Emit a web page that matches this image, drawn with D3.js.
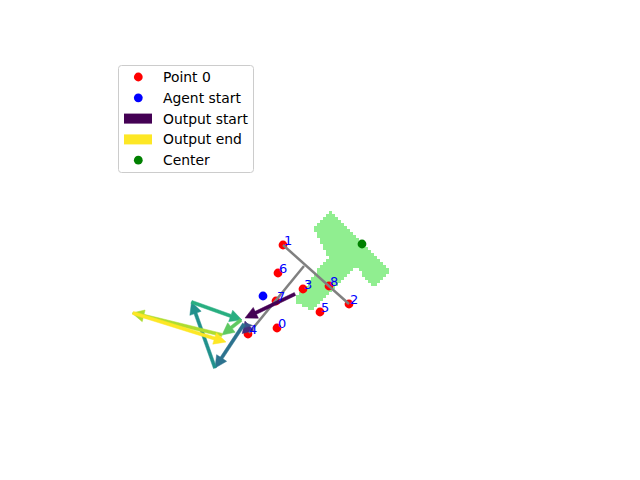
<!DOCTYPE html>
<html>
<head>
<meta charset="utf-8">
<script src="https://cdn.jsdelivr.net/npm/d3@7"></script>
<style>
  html, body { margin: 0; padding: 0; background: #fff; }
  svg { display: block; font-family: "DejaVu Sans", sans-serif; }
</style>
</head>
<body>
<svg id="chart" width="640" height="480"></svg>
<script>
// ---------- data ----------
const pointLabels = ["0", "1", "2", "3", "4", "5", "6", "7", "8"];
const pointX = [4.925, 5.075, 6.725, 5.575, 4.2, 6.0, 4.95, 4.9, 6.225];
const pointY = [2.475, 4.55, 3.075, 3.45, 2.325, 2.875, 3.85, 3.15, 3.525];

const agentStart = [4.575, 3.275];
const centerPoint = [7.05, 4.575];

// T-shaped region (polygon outline, shown as raster cells)
const tShapeX = [5.85, 6.25, 7.775, 7.35, 6.875, 5.775, 5.35, 6.2];
const tShapeY = [4.975, 5.4, 3.9, 3.475, 4.025, 2.9, 3.15, 4.25];
const cellSize = 0.075;

// gray skeleton segments
const segX0 = [5.075, 5.6];
const segY0 = [4.55, 4.025];
const segX1 = [6.725, 4.225];
const segY1 = [3.075, 2.35];

// output arrows (in order, coloured with viridis)
const arrowX0 = [5.375, 4.2, 4.175, 4.1, 3.375, 2.7875, 4.025, 3.55, 1.325];
const arrowY0 = [3.325, 2.375, 2.5, 2.575, 1.475, 3.125, 2.675, 2.3, 2.85];
const arrowX1 = [4.125, 4.125, 4.15, 3.375, 2.7875, 4.05, 3.55, 1.3, 3.65];
const arrowY1 = [2.725, 2.65, 2.6, 1.475, 3.125, 2.675, 2.3, 2.85, 2.125];

const legendLabels = ["Point 0", "Agent start", "Output start", "Output end", "Center"];

// ---------- layout ----------
const svg = d3.select("#chart");
const x = d3.scaleLinear().domain([0, 12.4]).range([80, 576]);
const y = d3.scaleLinear().domain([0, 9.225]).range([427, 58]);
const color = d3.scaleSequential(d3.interpolateViridis).domain([0, arrowX0.length - 1]);

// T-shape raster
const poly = tShapeX.map((v, i) => [v, tShapeY[i]]);
const xs = d3.extent(tShapeX), ys = d3.extent(tShapeY);
const cells = [];
for (let cx = Math.floor(xs[0] / cellSize); cx * cellSize <= xs[1]; cx++) {
  for (let cy = Math.floor(ys[0] / cellSize); cy * cellSize <= ys[1]; cy++) {
    const mx = (cx + 0.5) * cellSize, my = (cy + 0.5) * cellSize;
    if (d3.polygonContains(poly, [mx, my])) cells.push([cx * cellSize, cy * cellSize]);
  }
}
svg.append("g").attr("shape-rendering", "crispEdges")
  .selectAll("rect").data(cells).join("rect")
  .attr("x", d => x(d[0]))
  .attr("y", d => y(d[1] + cellSize))
  .attr("width", x(cellSize) - x(0) + 0.3)
  .attr("height", y(0) - y(cellSize) + 0.3)
  .attr("fill", "#90ee90");

// red points
svg.append("g").selectAll("circle").data(pointX).join("circle")
  .attr("cx", (d) => x(d))
  .attr("cy", (d, i) => y(pointY[i]))
  .attr("r", 4.4)
  .attr("fill", "#ff0000");

// gray skeleton
svg.append("g").selectAll("line").data(segX0).join("line")
  .attr("x1", d => x(d)).attr("y1", (d, i) => y(segY0[i]))
  .attr("x2", (d, i) => x(segX1[i])).attr("y2", (d, i) => y(segY1[i]))
  .attr("stroke", "#808080").attr("stroke-width", 2.5);

// arrows
const headLen = 12, headHalf = 6, shaft = 1.6;
const ag = svg.append("g");
arrowX0.forEach((d, i) => {
  const x0 = x(d), y0 = y(arrowY0[i]), x1 = x(arrowX1[i]), y1 = y(arrowY1[i]);
  const dx = x1 - x0, dy = y1 - y0;
  const L = Math.hypot(dx, dy) || 1;
  const ux = dx / L, uy = dy / L, px = -uy, py = ux;
  const hl = Math.min(headLen, L);
  const bx = x1 - ux * hl, by = y1 - uy * hl;
  const pts = [
    [x0 + px * shaft, y0 + py * shaft],
    [bx + px * shaft, by + py * shaft],
    [bx + px * headHalf, by + py * headHalf],
    [x1, y1],
    [bx - px * headHalf, by - py * headHalf],
    [bx - px * shaft, by - py * shaft],
    [x0 - px * shaft, y0 - py * shaft]
  ];
  ag.append("polygon")
    .attr("points", pts.map(p => p.join(",")).join(" "))
    .attr("fill", color(i))
    .attr("stroke", color(i)).attr("stroke-width", 0.5).attr("stroke-linejoin", "miter");
});

// agent start & center
svg.append("circle").attr("cx", x(agentStart[0])).attr("cy", y(agentStart[1]))
  .attr("r", 4.4).attr("fill", "#0000ff");
svg.append("circle").attr("cx", x(centerPoint[0])).attr("cy", y(centerPoint[1]))
  .attr("r", 4.4).attr("fill", "#008000");

// point labels
svg.append("g").selectAll("text").data(pointLabels).join("text")
  .attr("x", (d, i) => x(pointX[i]) + 1)
  .attr("y", (d, i) => y(pointY[i]))
  .attr("font-size", 13)
  .attr("fill", "#0000ff")
  .text(d => d);

// legend
const lg = svg.append("g");
lg.append("rect").attr("x", 118.5).attr("y", 65.5).attr("width", 135).attr("height", 107)
  .attr("rx", 3).attr("fill", "#fff").attr("fill-opacity", 0.8)
  .attr("stroke", "#cccccc").attr("stroke-width", 1);
const legendKinds = ["dot", "dot", "rect", "rect", "dot"];
const legendColors = ["#ff0000", "#0000ff", color(0), color(arrowX0.length - 1), "#008000"];
legendLabels.forEach((lab, i) => {
  const cy = 77 + i * 20.8;
  if (legendKinds[i] === "dot") {
    lg.append("circle").attr("cx", 138.3).attr("cy", cy).attr("r", 4.4).attr("fill", legendColors[i]);
  } else {
    lg.append("rect").attr("x", 124).attr("y", cy - 5).attr("width", 28).attr("height", 10)
      .attr("fill", legendColors[i]);
  }
  lg.append("text").attr("x", 163).attr("y", cy + 5)
    .attr("font-size", 13.9).attr("fill", "#000").text(lab);
});
</script>
</body>
</html>
